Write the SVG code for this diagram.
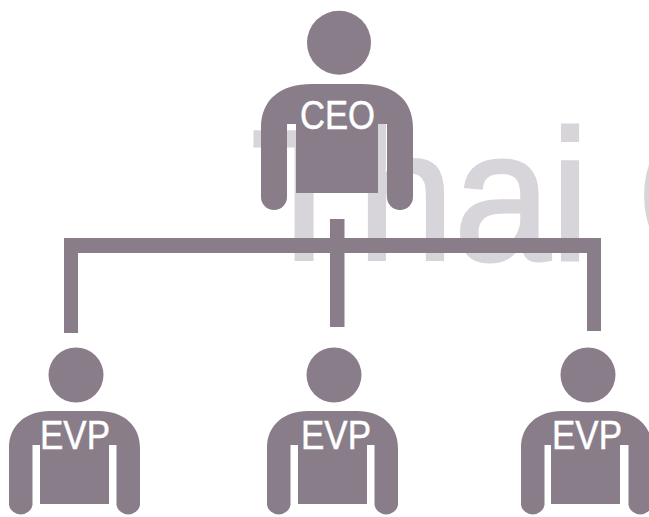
<svg xmlns="http://www.w3.org/2000/svg" width="649" height="517" viewBox="0 0 649 517">
<style>
.f{fill:#897d8a}
.l{fill:#fff;stroke:#fff;stroke-width:.5;font-family:"Liberation Sans",Arial,sans-serif;font-size:40px}
.w{fill:#d8d5da;stroke:#d8d5da;stroke-width:3;font-family:"Liberation Sans",Arial,sans-serif;font-size:186px}
</style>
<rect width="649" height="517" fill="#fff"/>
<text class="w" transform="translate(251 260) scale(.935 1)">Thai <tspan dx="-1">C</tspan></text>
<g id="connectors" class="f">
<path d="M64 238H601V331H587V253H344.500V327H330V253H78V333H64Z"/>
<rect x="330" y="219" width="14.500" height="20"/>
</g>
<g id="ceo">
<circle class="f" cx="339" cy="42.700" r="32"/>
<path class="f" d="M261 128C261 99 281 84 312 84H362C393 84 413 99 413 128V197A13 13 0 0 1 387 197V124H378V193H296V124H287V197A13 13 0 0 1 261 197Z"/>
<text class="l" x="300" y="129" textLength="75" lengthAdjust="spacingAndGlyphs">CEO</text>
</g>
<g id="evp1">
<circle class="f" cx="76" cy="375" r="27.500"/>
<path class="f" d="M9 448C9 425 26 411 50 411H99C123 411 140 425 140 448V505A12 12 0 0 1 116.500 505V445H109V504H40V445H32.500V505A12 12 0 0 1 9 505Z"/>
<text class="l" x="40" y="449" textLength="70" lengthAdjust="spacingAndGlyphs">EVP</text>
</g>
<g id="evp2">
<circle class="f" cx="334" cy="375" r="27.500"/>
<path class="f" d="M267 448C267 425 284 411 308 411H357C381 411 398 425 398 448V505A12 12 0 0 1 374.500 505V445H367V504H298V445H290.500V505A12 12 0 0 1 267 505Z"/>
<text class="l" x="301" y="449" textLength="70" lengthAdjust="spacingAndGlyphs">EVP</text>
</g>
<g id="evp3">
<circle class="f" cx="588" cy="375" r="27.500"/>
<path class="f" d="M521 448C521 425 538 411 562 411H611C635 411 652 425 652 448V505A12 12 0 0 1 628.500 505V445H620V504H551V445H544.500V505A12 12 0 0 1 521 505Z"/>
<text class="l" x="552" y="449" textLength="70" lengthAdjust="spacingAndGlyphs">EVP</text>
</g>
</svg>
